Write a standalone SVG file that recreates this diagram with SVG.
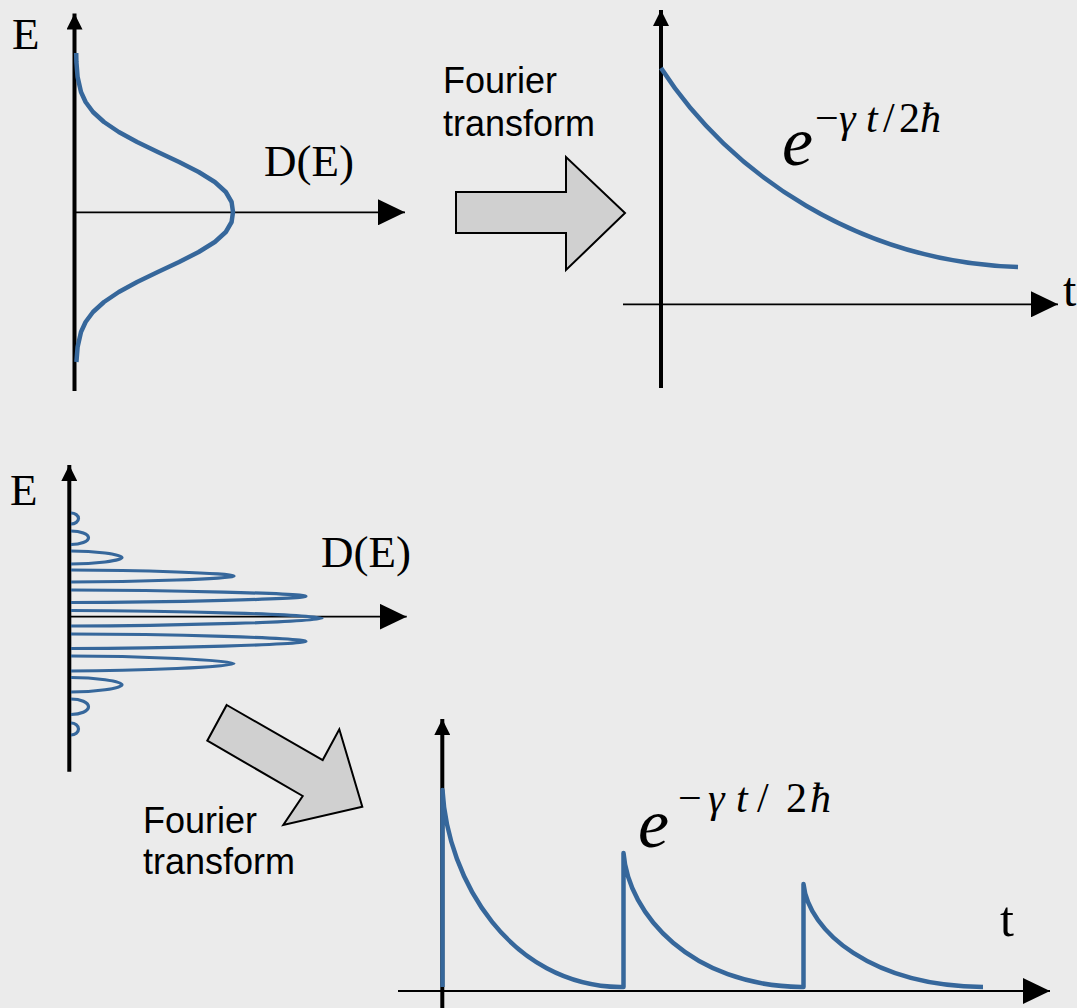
<svg xmlns="http://www.w3.org/2000/svg" width="1077" height="1008" viewBox="0 0 1077 1008">
<style>
.ax{stroke:#000;fill:none}
.vax{stroke-width:4}
.hax{stroke-width:1.8}
.curve{stroke:#36679b;stroke-width:4.5;fill:none;stroke-linejoin:round;stroke-linecap:butt}
.lobe{stroke:#36679b;stroke-width:3.2;fill:none}
.big{fill:#d0d0d0;stroke:#000;stroke-width:2;stroke-linejoin:miter}
.serif{font-family:"Liberation Serif","Times New Roman",serif;fill:#000}
.lbl{font-size:45px}
.e{font-size:70px;font-style:italic}
.sup{font-size:42px}
.it{font-style:italic}
.sans{font-family:"Liberation Sans",Arial,sans-serif;font-size:36px;fill:#000}
</style>
<defs>
<marker id="hh" viewBox="0 0 27 26" refX="27" refY="13" markerWidth="27" markerHeight="26" markerUnits="userSpaceOnUse" orient="auto"><path d="M0,0 L27,13 L0,26 Z" fill="#000"/></marker>
<marker id="vh" viewBox="0 0 16 16" refX="16" refY="8" markerWidth="16" markerHeight="16" markerUnits="userSpaceOnUse" orient="auto"><path d="M0,0 L16,8 L0,16 Z" fill="#000"/></marker>
</defs>
<rect width="1077" height="1008" fill="#ebebeb"/>

<g id="dos-top">
<line class="ax hax" x1="74.5" y1="212.3" x2="405" y2="212.3" marker-end="url(#hh)"/>
<line class="ax vax" x1="74.5" y1="391" x2="74.5" y2="13.5" marker-end="url(#vh)"/>
<polyline class="curve" points="76.2,53 76.4,62 77.6,77 81,92 85.6,102 93,112 104,122 118.8,132 137.1,142 157.8,152 179.1,162 198.7,172 214.8,182 225.8,192 231.6,202 233,212 231.6,222 225.8,232 214.8,242 198.7,252 179.1,262 157.8,272 137.1,282 118.8,292 104,302 93,312 85.6,322 81,332 77.6,347 76.4,362"/>
<text class="serif lbl" x="12" y="49">E</text>
<text class="serif lbl" x="264" y="176">D(E)</text>
</g>

<g id="decay-top">
<line class="ax hax" x1="623" y1="304.3" x2="1058" y2="304.3" marker-end="url(#hh)"/>
<line class="ax vax" x1="661" y1="388" x2="661" y2="10" marker-end="url(#vh)"/>
<path class="curve" d="M661,68 C730,175 860,262 1018,267"/>
<text class="serif e" x="782" y="165">e</text>
<text class="serif sup" y="132"><tspan x="815">−</tspan><tspan class="it" x="839">γ</tspan><tspan class="it" x="866">t</tspan><tspan x="883">/</tspan><tspan x="899">2</tspan><tspan class="it" x="920">ħ</tspan></text>
<text class="serif" style="font-size:48px" x="1063" y="306">t</text>
</g>

<g id="dos-bottom">
<line class="ax hax" x1="69.3" y1="616.7" x2="406.7" y2="616.7" marker-end="url(#hh)"/>
<line class="ax vax" x1="69.3" y1="771.7" x2="69.3" y2="465" marker-end="url(#vh)"/>
<path class="lobe" d="M71,513 C75.1,513 78.5,515.5 78.5,518.5 C78.5,521.5 75.1,524 71,524"/>
<path class="lobe" d="M71,531 C80.6,531 88.5,534 88.5,537.75 C88.5,541.5 80.6,544.5 71,544.5"/>
<path class="lobe" d="M71,551 C94,551 122,554.25 122,557.5 C122,560.75 94,564 71,564"/>
<path class="lobe" d="M71,570 C136,570 234,573.3 234,576 C234,578.7 136,582 71,582"/>
<path class="lobe" d="M71,590 C165,590 306,593.45 306,596.25 C306,599.05 165,602.5 71,602.5"/>
<path class="lobe" d="M71,610.5 C171,610.5 322,614.75 322,618.25 C322,621.75 171,626 71,626"/>
<path class="lobe" d="M71,634 C165,634 306,638 306,641.25 C306,644.5 165,648.5 71,648.5"/>
<path class="lobe" d="M71,656 C136,656 234,660.1 234,663.5 C234,666.9 136,671 71,671"/>
<path class="lobe" d="M71,677.5 C94,677.5 122,681.1 122,684.75 C122,688.4 94,692 71,692"/>
<path class="lobe" d="M71,699 C80.6,699 88.5,702.5 88.5,706.75 C88.5,711 80.6,714.5 71,714.5"/>
<path class="lobe" d="M71,723 C75.1,723 78.5,725.7 78.5,729 C78.5,732.3 75.1,735 71,735"/>
<text class="serif lbl" x="10" y="505">E</text>
<text class="serif lbl" x="321" y="567">D(E)</text>
</g>

<g id="decay-bottom">
<line class="ax hax" x1="398" y1="991" x2="1050" y2="991" marker-end="url(#hh)"/>
<line class="ax vax" x1="442.3" y1="1008" x2="442.3" y2="719" marker-end="url(#vh)"/>
<path class="curve" d="M442.5,987 V790 C447.5,881 510.5,985 620,987 L623.5,987 V853 C628.5,915 691.5,985.7 801,987 L803.5,987 V884 C808.5,931.6 871.5,986 983,987"/>
<text class="serif e" x="638" y="847">e</text>
<text class="serif sup" y="812"><tspan x="678">−</tspan><tspan class="it" x="708">γ</tspan><tspan class="it" x="736">t</tspan><tspan x="757">/</tspan><tspan x="786">2</tspan><tspan class="it" x="810">ħ</tspan></text>
<text class="serif" style="font-size:50px" x="1000" y="936">t</text>
</g>

<g id="connectors">
<g id="ft-top">
<polygon class="big" points="456,192 566,192 566,157 625,213 566,270 566,233 456,233"/>
<text class="sans" x="443" y="93">Fourier</text>
<text class="sans" x="443" y="136">transform</text>
</g>
<g id="ft-bottom">
<polygon class="big" points="226.7,705 322.7,760 339.3,729.3 362.3,806.7 283.3,825 302.7,796 207.3,740.7"/>
<text class="sans" x="143" y="833">Fourier</text>
<text class="sans" x="143" y="874">transform</text>
</g>
</g>
</svg>
